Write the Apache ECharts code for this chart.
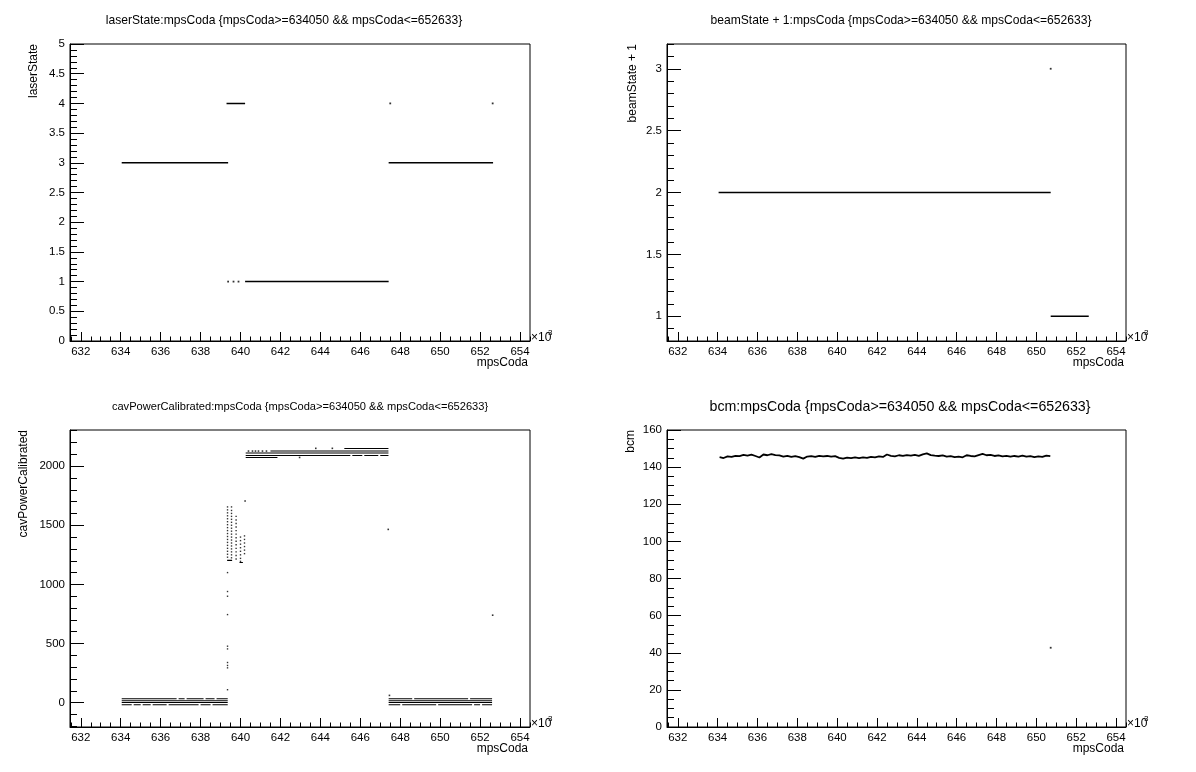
<!DOCTYPE html>
<html><head><meta charset="utf-8">
<script src="https://cdn.jsdelivr.net/npm/echarts@6/dist/echarts.min.js"></script>
<style>html,body{margin:0;padding:0;background:#fff}#c{width:1196px;height:772px}</style>
</head><body><div id="c"></div>
<script>
// ---------- data (x in units of 10^3 mpsCoda) ----------
const xMajorTicks = [632,634,636,638,640,642,644,646,648,650,652,654];
const xMin = 631.46, xMax = 654.5;

const panelTitles = [
  'laserState:mpsCoda {mpsCoda>=634050 && mpsCoda<=652633}',
  'beamState + 1:mpsCoda {mpsCoda>=634050 && mpsCoda<=652633}',
  'cavPowerCalibrated:mpsCoda {mpsCoda>=634050 && mpsCoda<=652633}',
  'bcm:mpsCoda {mpsCoda>=634050 && mpsCoda<=652633}'
];
const yTitles = ['laserState', 'beamState + 1', 'cavPowerCalibrated', 'bcm'];
const xTitle = 'mpsCoda';

// laserState
const laserYTicks = [0,0.5,1,1.5,2,2.5,3,3.5,4,4.5,5];
const laserSegments = [[634.05,639.38,3],[639.30,640.23,4],[640.23,647.42,1],[647.42,652.65,3]];
const laserDots = [[639.38,1],[639.65,1],[639.90,1],[647.50,4],[652.63,4]];

// beamState + 1
const beamYTicks = [1,1.5,2,2.5,3];
const beamSegments = [[634.05,650.72,2],[650.72,652.63,1]];
const beamDots = [[650.72,3]];

// cavPowerCalibrated
const cavYTicks = [0,500,1000,1500,2000];
const cavSegments = [
  // low band, left
  [634.05,636.80,34],[636.90,637.20,34],[637.30,638.15,34],[638.25,638.70,34],[638.80,639.36,34],
  [634.05,639.36,17],[634.05,639.36,2],
  [634.05,634.55,-17],[634.65,635.00,-17],[635.10,635.50,-17],[635.60,636.30,-17],[636.40,637.90,-17],[638.00,638.50,-17],[638.60,639.36,-17],
  // low band, right
  [647.42,648.60,34],[648.70,651.40,34],[651.50,652.60,34],
  [647.42,652.60,17],[647.42,652.60,2],
  [647.42,648.00,-17],[648.10,649.80,-17],[649.90,651.60,-17],[651.70,652.00,-17],[652.10,652.60,-17],
  // high band
  [645.20,647.41,2149],
  [641.50,647.41,2127],
  [640.26,647.41,2110],
  [640.26,645.50,2090],[645.60,646.10,2090],[646.20,646.90,2090],[647.00,647.41,2090],
  [640.26,641.85,2073],
  // cluster floor
  [639.33,639.58,1203],[639.95,640.12,1185]
];
const cavDots = [
  [640.40,2127],[640.60,2127],[640.75,2127],[640.90,2127],[641.10,2127],[641.30,2127],
  [642.96,2073],[643.77,2150],[644.60,2150],
  [640.23,1705],[647.40,1465],[652.63,740],[647.46,62]
];
const cavColumnX = [639.35, 639.55, 639.78, 640.00, 640.20];
const cavColumnY = [
  [1655,1630,1605,1580,1555,1530,1505,1480,1455,1430,1405,1380,1355,1330,1305,1280,1255,1230,1100,940,900,745,478,455,340,315,295,110],
  [1655,1625,1600,1575,1550,1525,1500,1475,1450,1425,1400,1375,1350,1325,1300,1275,1250,1225],
  [1575,1545,1515,1485,1455,1425,1395,1365,1335,1305,1275,1245,1215],
  [1400,1370,1340,1310,1280,1250,1220,1195],
  [1410,1380,1350,1320,1290,1260]
];

// bcm
const bcmYTicks = [0,20,40,60,80,100,120,140,160];
const bcmX = [634.1,634.3,634.5,634.7,634.9,635.1,635.3,635.5,635.7,635.9,
  636.1,636.3,636.5,636.7,636.9,637.1,637.3,637.5,637.7,637.9,
  638.1,638.3,638.5,638.7,638.9,639.1,639.3,639.5,639.7,639.9,
  640.1,640.3,640.5,640.7,640.9,641.1,641.3,641.5,641.7,641.9,
  642.1,642.3,642.5,642.7,642.9,643.1,643.3,643.5,643.7,643.9,
  644.1,644.3,644.5,644.7,644.9,645.1,645.3,645.5,645.7,645.9,
  646.1,646.3,646.5,646.7,646.9,647.1,647.3,647.5,647.7,647.9,
  648.1,648.3,648.5,648.7,648.9,649.1,649.3,649.5,649.7,649.9,
  650.1,650.3,650.5,650.7];
const bcmY = [145.4,144.9,145.8,145.5,146.1,145.9,146.6,146.2,146.7,146.0,
  145.2,146.8,146.4,147.0,146.5,146.3,145.7,146.1,145.5,145.9,
  145.4,144.6,145.7,145.9,145.5,146.1,145.8,146.0,145.6,145.9,
  145.0,144.6,145.1,144.8,145.2,144.9,145.3,145.0,145.5,145.3,
  145.8,145.5,146.8,146.1,145.8,146.4,146.0,146.5,146.2,146.6,
  146.1,146.9,147.4,146.5,146.2,146.0,146.3,145.7,145.9,145.4,
  145.7,145.3,146.4,146.0,145.8,146.5,147.1,146.4,146.6,146.0,
  146.3,145.8,146.1,145.6,146.0,145.7,146.2,145.6,145.9,145.4,
  145.8,145.5,146.2,145.9];
const bcmDots = [[650.72,42.7]];

// ---------- layout / style ----------
const FONT = '"Liberation Sans", Arial, Helvetica, sans-serif';
const grids = [
  {left:70, top:44, width:460, height:297},
  {left:667, top:44, width:459, height:297},
  {left:70, top:430, width:460, height:297},
  {left:667, top:430, width:459, height:297}
];
const yRanges = [[0,5],[0.8,3.2],[-205,2305],[0,160]];
const yMajor = [laserYTicks, beamYTicks, cavYTicks, bcmYTicks];
const yMinorStep = [0.1, 0.1, 100, 5];
const titleFont = [12.1, 12.1, 11.1, 14.2];
const titleCx = [284, 901, 300, 900];
const yTitleX = [34, 633, 24, 631];

function steps(a, b, s) {
  const out = [];
  const n = Math.round((b - a) / s);
  for (let i = 0; i <= n; i++) out.push(Math.round((a + i * s) * 1000) / 1000);
  return out;
}
const xMinorTicks = steps(631.5, 654.5, 0.5).filter(v => v >= xMin && v <= xMax);

const xAxes = [], yAxes = [], series = [], graphics = [];
const black = '#000';
grids.forEach((g, i) => {
  const common = {gridIndex:i, type:'value', min:xMin, max:xMax, splitLine:{show:false}};
  xAxes.push(Object.assign({}, common, {
    position:'bottom',
    axisLine:{show:true, onZero:false, lineStyle:{color:black, width:1}},
    axisTick:{show:true, inside:true, length:9, customValues:xMajorTicks, lineStyle:{color:black, width:1}},
    axisLabel:{show:true, customValues:xMajorTicks, formatter:v => String(v), color:black, fontSize:11.5, fontFamily:FONT, margin:5}
  }));
  xAxes.push(Object.assign({}, common, {
    position:'bottom',
    axisLine:{show:false, onZero:false},
    axisTick:{show:true, inside:true, length:4.5, customValues:xMinorTicks, lineStyle:{color:black, width:1}},
    axisLabel:{show:false}
  }));
  const [ymin, ymax] = yRanges[i];
  const yc = {gridIndex:i, type:'value', min:ymin, max:ymax, splitLine:{show:false}};
  const minorY = steps(Math.ceil(ymin / yMinorStep[i]) * yMinorStep[i], ymax, yMinorStep[i]).filter(v => v >= ymin && v <= ymax);
  yAxes.push(Object.assign({}, yc, {
    position:'left',
    axisLine:{show:true, onZero:false, lineStyle:{color:black, width:1}},
    axisTick:{show:true, inside:true, length:14, customValues:yMajor[i], lineStyle:{color:black, width:1}},
    axisLabel:{show:true, customValues:yMajor[i], formatter:v => String(v), color:black, fontSize:11.5, fontFamily:FONT, margin:5}
  }));
  yAxes.push(Object.assign({}, yc, {
    position:'left',
    axisLine:{show:false, onZero:false},
    axisTick:{show:true, inside:true, length:7, customValues:minorY, lineStyle:{color:black, width:1}},
    axisLabel:{show:false}
  }));

  // texts
  graphics.push({type:'text', x:titleCx[i], y:g.top - 23, silent:true,
    style:{text:panelTitles[i], fill:black, font:`${titleFont[i]}px ${FONT}`, align:'center', verticalAlign:'middle', textAlign:'center', textVerticalAlign:'middle'}});
  graphics.push({type:'text', x:yTitleX[i], y:g.top, rotation:Math.PI/2, silent:true,
    style:{text:yTitles[i], fill:black, font:`12px ${FONT}`, align:'right', verticalAlign:'middle', textAlign:'right', textVerticalAlign:'middle'}});
  graphics.push({type:'text', x:g.left + g.width - 2, y:g.top + g.height + 22, silent:true,
    style:{text:xTitle, fill:black, font:`12px ${FONT}`, align:'right', verticalAlign:'middle', textAlign:'right', textVerticalAlign:'middle'}});
  graphics.push({type:'text', x:g.left + g.width + 1, y:g.top + g.height - 3, silent:true,
    style:{text:'\u00d710', fill:black, font:`12px ${FONT}`, align:'left', verticalAlign:'middle', textAlign:'left', textVerticalAlign:'middle'}});
  graphics.push({type:'text', x:g.left + g.width + 18, y:g.top + g.height - 8, silent:true,
    style:{text:'3', fill:black, font:`8px ${FONT}`, align:'left', verticalAlign:'middle', textAlign:'left', textVerticalAlign:'middle'}});
});

function segSeries(i, segs, w) {
  segs.forEach(s => series.push({type:'line', xAxisIndex:2*i, yAxisIndex:2*i, symbol:'none', silent:true,
    lineStyle:{color:black, width:w}, data:[[s[0], s[2]], [s[1], s[2]]]}));
}
function dotSeries(i, pts, size) {
  series.push({type:'scatter', xAxisIndex:2*i, yAxisIndex:2*i, symbol:'rect', symbolSize:size || 1.8, silent:true,
    itemStyle:{color:black}, data:pts});
}
segSeries(0, laserSegments, 1.5); dotSeries(0, laserDots);
segSeries(1, beamSegments, 1.5); dotSeries(1, beamDots);
segSeries(2, cavSegments, 1.1); dotSeries(2, cavDots, 1.6);
const cavCols = [];
cavColumnX.forEach((x, k) => cavColumnY[k].forEach(y => cavCols.push([x, y])));
dotSeries(2, cavCols, 1.4);
series.push({type:'line', xAxisIndex:6, yAxisIndex:6, symbol:'none', silent:true,
  lineStyle:{color:black, width:1.8}, data:bcmX.map((x, k) => [x, bcmY[k]])});
dotSeries(3, bcmDots);

const chart = echarts.init(document.getElementById('c'), null, {renderer:'canvas'});
chart.setOption({
  backgroundColor:'#fff',
  animation:false,
  grid:grids.map(g => Object.assign({show:true, borderColor:black, borderWidth:1, backgroundColor:'transparent', containLabel:false}, g)),
  xAxis:xAxes,
  yAxis:yAxes,
  series:series,
  graphic:{elements:graphics}
});
</script>
</body></html>
